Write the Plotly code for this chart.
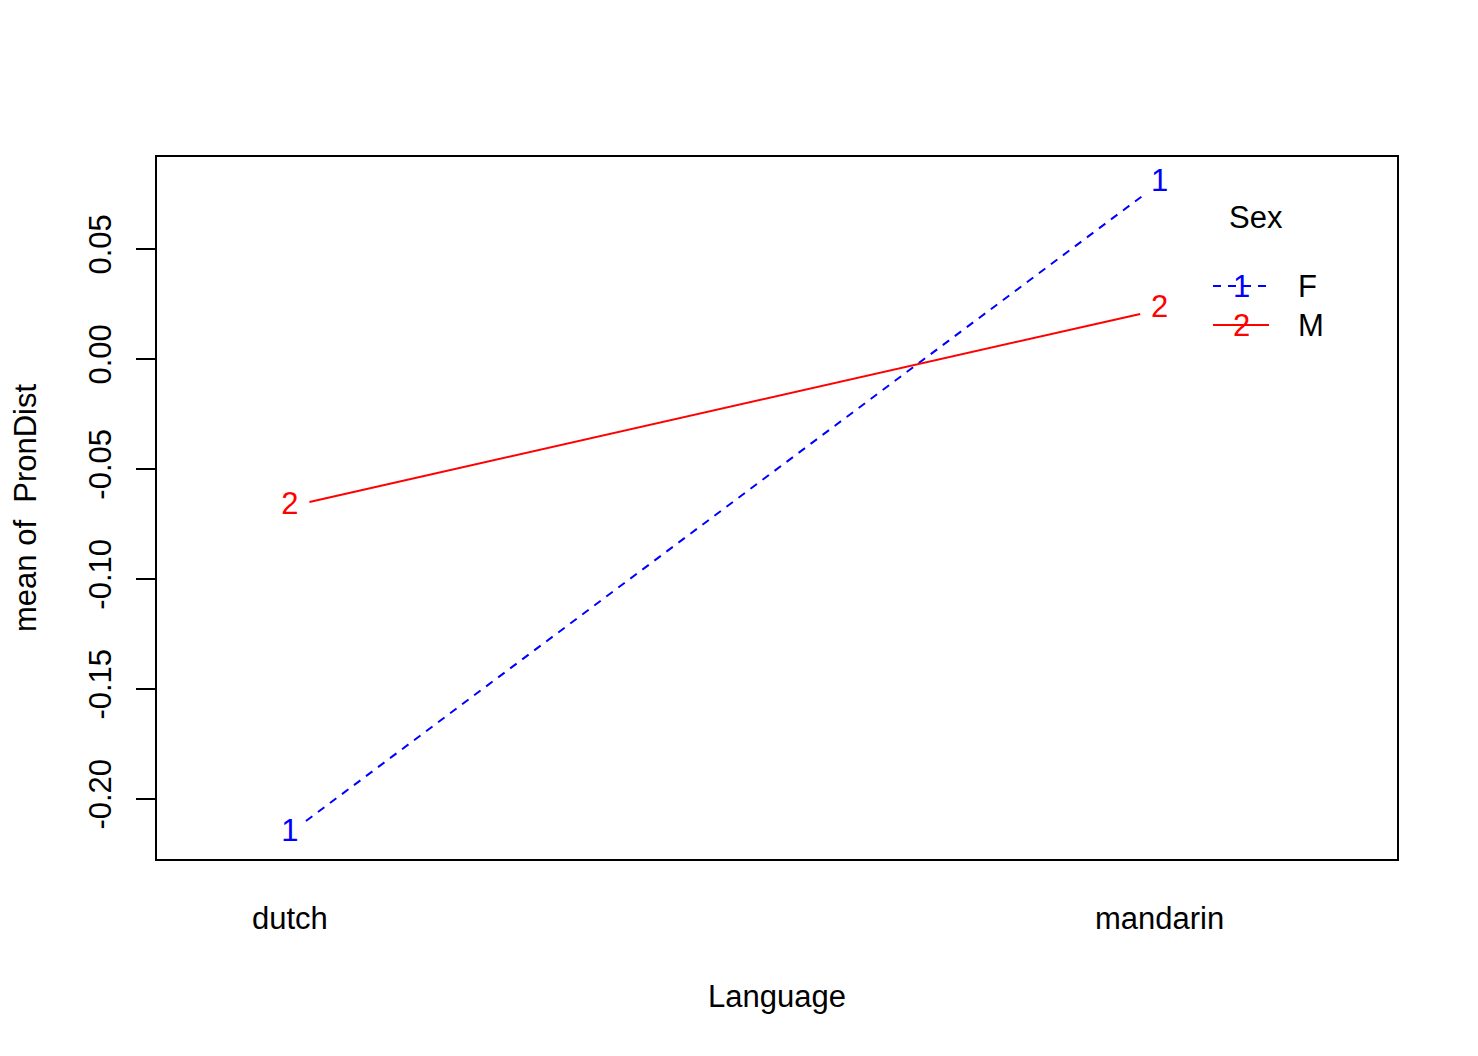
import plotly.graph_objects as go

# ---- data ----
languages = ["dutch", "mandarin"]
sexes = ["F", "M"]
pch_labels = ["1", "2"]
mean_F = [-0.2155, 0.0800]
mean_M = [-0.0670, 0.0225]
series = {"F": mean_F, "M": mean_M}
y_ticks = [-0.20, -0.15, -0.10, -0.05, 0.00, 0.05]
y_tick_labels = [f"{v:.2f}" for v in y_ticks]

colors = {"F": "#0000FF", "M": "#FF0000"}
dashes = {"F": "8px,7px", "M": "solid"}
FONT = "Liberation Sans, Arial, sans-serif"
FS = 31

OFF = 8  # default body margin of the html page
W, H = 1478 - OFF, 1056 - OFF
# plot area in page pixels (reference), converted to figure pixels
L, R, T, B = 157 - OFF, 1397 - OFF, 157 - OFF, 859 - OFF

# R-like axis limits
xvals = list(range(1, len(languages) + 1))
nch = max(len(s) for s in sexes)
xl0, xl1 = min(xvals), max(xvals)
d = xl1 - xl0
xlim = [xl0 - 0.2 / len(languages) * d, xl1 + (0.2 + 0.02 * nch) * d]
xspan = xlim[1] - xlim[0]
xr = [xlim[0] - 0.04 * xspan, xlim[1] + 0.04 * xspan]
allv = mean_F + mean_M
ylim = [min(allv), max(allv)]
yspan = ylim[1] - ylim[0]
yr = [ylim[0] - 0.04 * yspan, ylim[1] + 0.04 * yspan]


def d2p(x, y):
    return (L + (x - xr[0]) / (xr[1] - xr[0]) * (R - L),
            B - (y - yr[0]) / (yr[1] - yr[0]) * (B - T))


def p2d(px, py):
    return (xr[0] + (px - L) / (R - L) * (xr[1] - xr[0]),
            yr[0] + (B - py) / (B - T) * (yr[1] - yr[0]))


def px2paper(px, py):
    # px, py given in page (reference) pixels
    px -= OFF
    py -= OFF
    return ((px - L) / (R - L), (B - py) / (B - T))


GAP = 20
fig = go.Figure()
for s, lab in zip(sexes, pch_labels):
    vals = series[s]
    xs, ys = [], []
    for i in range(len(xvals) - 1):
        p0 = d2p(xvals[i], vals[i])
        p1 = d2p(xvals[i + 1], vals[i + 1])
        dx, dy = p1[0] - p0[0], p1[1] - p0[1]
        ln = (dx * dx + dy * dy) ** 0.5
        ux, uy = dx / ln, dy / ln
        a = p2d(p0[0] + GAP * ux, p0[1] + GAP * uy)
        b = p2d(p1[0] - GAP * ux, p1[1] - GAP * uy)
        xs += [a[0], b[0], None]
        ys += [a[1], b[1], None]
    fig.add_trace(go.Scatter(x=xs, y=ys, mode="lines",
                             line=dict(color=colors[s], width=2, dash=dashes[s]),
                             showlegend=False, hoverinfo="skip"))
    fig.add_trace(go.Scatter(x=xvals, y=vals, mode="text", text=[lab] * len(vals),
                             textposition="middle center",
                             textfont=dict(family=FONT, size=FS, color=colors[s]),
                             showlegend=False, name=s))

annotations = []
shapes = []
# x category labels
for xv, name in zip(xvals, languages):
    annotations.append(dict(x=xv, xref="x", y=px2paper(0, 919)[1], yref="paper",
                            text=name, showarrow=False, xanchor="center", yanchor="middle",
                            font=dict(family=FONT, size=FS, color="black")))
# axis titles
annotations.append(dict(x=0.5, xref="paper", y=px2paper(0, 996)[1], yref="paper",
                        text="Language", showarrow=False, xanchor="center", yanchor="middle",
                        font=dict(family=FONT, size=FS, color="black")))
annotations.append(dict(x=px2paper(25, 0)[0], xref="paper", y=0.5, yref="paper",
                        text="mean of  PronDist", textangle=-90, showarrow=False,
                        xanchor="center", yanchor="middle",
                        font=dict(family=FONT, size=FS, color="black")))
# legend
sx, sy = px2paper(1256, 217)
annotations.append(dict(x=sx, xref="paper", y=sy, yref="paper", text="Sex", showarrow=False,
                        xanchor="center", yanchor="middle",
                        font=dict(family=FONT, size=FS, color="black")))
leg_rows = [286, 325]
for s, lab, py in zip(sexes, pch_labels, leg_rows):
    x0, yy = px2paper(1213, py)
    x1, _ = px2paper(1269, py)
    shapes.append(dict(type="line", xref="paper", yref="paper", x0=x0, x1=x1, y0=yy, y1=yy,
                       line=dict(color=colors[s], width=2, dash=dashes[s])))
    cx, _ = px2paper(1241, py)
    annotations.append(dict(x=cx, xref="paper", y=yy, yref="paper", text=lab, showarrow=False,
                            xanchor="center", yanchor="middle",
                            font=dict(family=FONT, size=FS, color=colors[s])))
    tx, _ = px2paper(1296, py)
    annotations.append(dict(x=tx, xref="paper", y=yy, yref="paper", text=s, showarrow=False,
                            xanchor="left", yanchor="middle",
                            font=dict(family=FONT, size=FS, color="black")))

fig.update_layout(
    width=W, height=H,
    margin=dict(l=L, r=W - R, t=T, b=H - B, pad=0),
    paper_bgcolor="white", plot_bgcolor="white",
    showlegend=False,
    annotations=annotations, shapes=shapes,
    xaxis=dict(range=xr, showgrid=False, zeroline=False, showticklabels=False, ticks="",
               showline=True, linecolor="black", linewidth=2, mirror=True),
    yaxis=dict(range=yr, showgrid=False, zeroline=False, tickvals=y_ticks, ticktext=y_tick_labels,
               ticks="outside", ticklen=19, tickwidth=2, tickcolor="black",
               tickangle=-90, ticklabelstandoff=13,
               tickfont=dict(family=FONT, size=FS, color="black"),
               showline=True, linecolor="black", linewidth=2, mirror=True),
)

fig.write_html("out.html")
